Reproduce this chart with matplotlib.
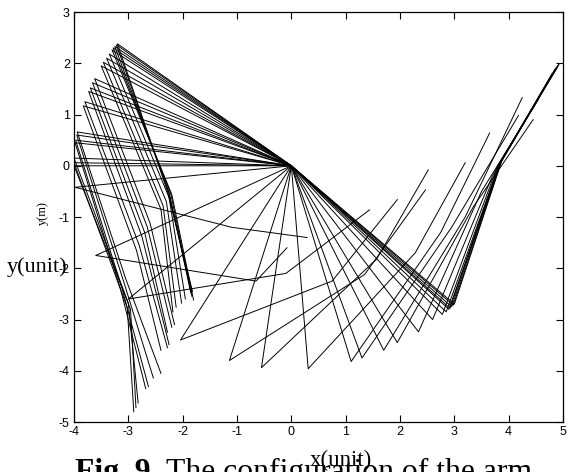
import numpy as np
import matplotlib.pyplot as plt

# joint positions of the 3-link arm, one entry per configuration (base at 0,0)
elbow_x = [-3.20, -3.22, -3.25, -3.28, -3.30, -3.35, -3.40, -3.46, -3.50,
           -3.62, -3.66, -3.70, -3.73, -3.80, -3.83,
           -3.94, -3.95, -3.97, -3.98,
           -4.00, -4.00, -4.00,
           -3.98, -3.60, -3.00, -2.04, -1.14, -0.55, 0.31, 1.10, 1.30, 1.70,
           1.95, 2.34, 2.60, 2.78, 2.85, 2.90, 2.95, 2.98, 3.00, 2.92]
elbow_y = [2.38, 2.36, 2.33, 2.30, 2.26, 2.18, 2.10, 2.02, 1.95,
           1.70, 1.62, 1.52, 1.45, 1.25, 1.17,
           0.66, 0.60, 0.50, 0.45,
           0.15, 0.06, 0.00,
           -0.42, -1.75, -2.60, -3.40, -3.80, -3.94, -3.96, -3.82, -3.75, -3.60,
           -3.45, -3.24, -3.00, -2.90, -2.85, -2.80, -2.75, -2.72, -2.70, -2.78]
wrist_x = [-2.28, -2.26, -2.25, -2.22, -2.20, -2.25, -2.30, -2.36, -2.40,
           -2.60, -2.65, -2.70, -2.75, -2.80, -2.85,
           -3.05, -3.08, -3.12, -3.14,
           -3.00, -3.02, -2.96,
           -1.10, -0.65, -0.10, 0.75, 1.35, 1.57, 2.28, 2.75, 2.95, 3.20,
           3.35, 3.50, 3.70, 3.78, 3.82, 3.85, 3.85, 3.87, 3.88, 3.83]
wrist_y = [-0.50, -0.51, -0.52, -0.54, -0.56, -0.62, -0.70, -0.78, -0.85,
           -1.12, -1.20, -1.30, -1.38, -1.55, -1.65,
           -2.20, -2.28, -2.38, -2.42,
           -2.68, -2.77, -2.80,
           -1.20, -2.25, -2.10, -2.25, -2.12, -1.82, -1.70, -1.30, -1.20, -1.00,
           -0.80, -0.50, -0.20, -0.05, 0.00, 0.05, 0.08, 0.10, 0.12, 0.05]
tip_x = [-1.82, -1.84, -1.85, -1.83, -1.80, -1.95, -2.02, -2.12, -2.18,
         -2.15, -2.20, -2.28, -2.25, -2.28, -2.40,
         -2.40, -2.54, -2.63, -2.68,
         -2.82, -2.90, -2.86,
         0.29, -0.08, 1.44, 1.95, 2.47, 2.52, 3.20, 3.65, 4.18, 4.25,
         4.45, 4.55, 4.70, 4.80, 4.85, 4.88, 4.90, 4.92, 4.93, 4.90]
tip_y = [-2.45, -2.47, -2.48, -2.55, -2.62, -2.60, -2.68, -2.76, -2.85,
         -3.10, -3.15, -3.25, -3.49, -3.55, -3.60,
         -4.05, -4.14, -4.31, -4.35,
         -4.63, -4.80, -4.72,
         -1.40, -1.60, -0.86, -0.66, -0.47, -0.08, 0.06, 0.64, 0.98, 1.33,
         0.90, 1.30, 1.60, 1.80, 1.88, 1.92, 1.95, 1.97, 1.99, 1.93]

x_ticks = [-4, -3, -2, -1, 0, 1, 2, 3, 4, 5]
y_ticks = [-5, -4, -3, -2, -1, 0, 1, 2, 3]

plt.rcParams['font.family'] = ['Liberation Sans', 'DejaVu Sans']
plt.rcParams['axes.unicode_minus'] = False

fig = plt.figure(figsize=(5.68, 4.72), dpi=100)
ax = fig.add_axes([0.1303, 0.1059, 0.8609, 0.8686])

for i in range(len(elbow_x)):
    ax.plot([0, elbow_x[i], wrist_x[i], tip_x[i]],
            [0, elbow_y[i], wrist_y[i], tip_y[i]],
            color='black', lw=0.7)

ax.set_xlim(-4, 5)
ax.set_ylim(-5, 3)
ax.set_xticks(x_ticks)
ax.set_yticks(y_ticks)
ax.tick_params(direction='in', length=5, width=0.8, top=True, right=True,
               labelsize=9, pad=3)
for s in ax.spines.values():
    s.set_linewidth(0.9)

# small matlab label, partly hidden under the bigger ones
fig.text(0.076, 0.549, 'y(m)', rotation=90, fontsize=9, family='Liberation Serif',
         ha='center', va='center')
fig.text(0.012, 0.435, 'y(unit)', fontsize=16, family='Liberation Serif',
         ha='left', va='center')
fig.text(0.60, 0.025, 'x(unit)', fontsize=16.5, family='Liberation Serif',
         ha='center', va='center')

# caption: bold "Fig. 9." then plain text right after it
cap_y = -0.016
t1 = fig.text(0.132, cap_y, 'Fig. 9. ', fontsize=22.8, fontweight='bold',
              family='Liberation Serif', ha='left', va='baseline')
fig.canvas.draw()
bb = t1.get_window_extent(fig.canvas.get_renderer())
x_next = bb.x1 / fig.bbox.width
fig.text(x_next, cap_y, 'The configuration of the arm', fontsize=22.8,
         family='Liberation Serif', ha='left', va='baseline')

fig.savefig('out.png', dpi=100)
